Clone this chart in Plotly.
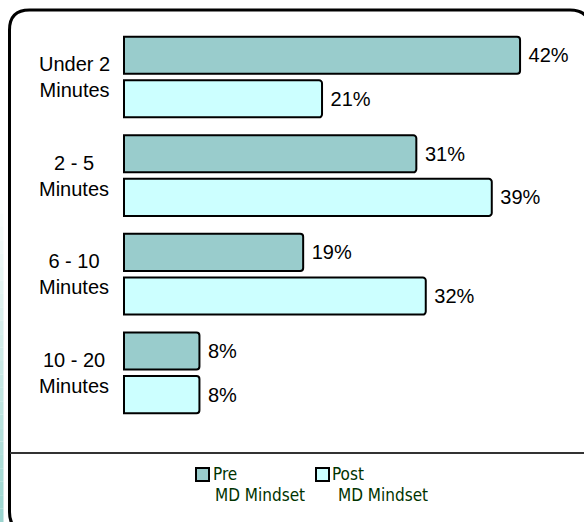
import plotly.graph_objects as go

# ---- data ----
categories = ["Under 2 Minutes", "2 - 5 Minutes", "6 - 10 Minutes", "10 - 20 Minutes"]
category_labels = ["Under 2<br>Minutes", "2 - 5<br>Minutes", "6 - 10<br>Minutes", "10 - 20<br>Minutes"]
pre_values = [42, 31, 19, 8]
post_values = [21, 39, 32, 8]
series_names = ["Pre", "Post"]
legend_second_line = "MD Mindset"

W, H = 584, 522
PRE_COLOR = "#99CCCC"
POST_COLOR = "#CCFFFF"
LABEL_FONT = dict(family="Liberation Sans, Arial, sans-serif", size=20, color="black")
LEGEND_FONT = dict(family="DejaVu Sans Condensed, DejaVu Sans, sans-serif", size=17, color="#003300")


def px(x):
    return x / W


def py(y):
    return 1 - y / H


fig = go.Figure()
for name, vals, color in [(series_names[0], pre_values, PRE_COLOR), (series_names[1], post_values, POST_COLOR)]:
    fig.add_trace(go.Bar(
        y=categories, x=vals, orientation="h", name=name,
        marker=dict(color=color, line=dict(color="black", width=2), cornerradius=3),
        text=vals, texttemplate="&nbsp;%{x}%", textposition="outside",
        textfont=LABEL_FONT, constraintext="none", cliponaxis=False,
        showlegend=False, hoverinfo="skip",
    ))

# category labels (centered, two lines)
for cat, lab in zip(categories, category_labels):
    fig.add_annotation(x=px(74), xref="paper", y=cat, yref="y", text=lab,
                       showarrow=False, align="center", xanchor="center", yanchor="middle",
                       font=LABEL_FONT)

shapes = []
# rounded frame
x0, y0, x1, y1, r = 9.5, 10, 590, 532, 20
path = (f"M {px(x0 + r)},{py(y0)} L {px(x1 - r)},{py(y0)} Q {px(x1)},{py(y0)} {px(x1)},{py(y0 + r)} "
        f"L {px(x1)},{py(y1 - r)} Q {px(x1)},{py(y1)} {px(x1 - r)},{py(y1)} "
        f"L {px(x0 + r)},{py(y1)} Q {px(x0)},{py(y1)} {px(x0)},{py(y1 - r)} "
        f"L {px(x0)},{py(y0 + r)} Q {px(x0)},{py(y0)} {px(x0 + r)},{py(y0)} Z")
shapes.append(dict(type="path", xref="paper", yref="paper", path=path,
                   line=dict(color="black", width=3), fillcolor="rgba(0,0,0,0)", layer="below"))
# divider line
shapes.append(dict(type="line", xref="paper", yref="paper", x0=px(10), x1=px(590), y0=py(453), y1=py(453),
                   line=dict(color="#333333", width=2)))
# left gradient strip (decoration)
n = 24
top, bot = 200, 522
for i in range(n):
    t = (i + 0.5) / n
    rr = int(255 + (153 - 255) * t)
    gg = int(255 + (212 - 255) * t)
    bb = int(255 + (206 - 255) * t)
    ya = top + (bot - top) * i / n
    yb = top + (bot - top) * (i + 1) / n
    shapes.append(dict(type="rect", xref="paper", yref="paper", x0=px(0), x1=px(3.5), y0=py(yb), y1=py(ya),
                       fillcolor=f"rgb({rr},{gg},{bb})", line=dict(width=0), layer="below"))

# custom legend swatches + text
legend_items = [(series_names[0], PRE_COLOR, 196, 211, 213), (series_names[1], POST_COLOR, 316, 330, 336)]
for name, color, sx, tx, tx2 in legend_items:
    shapes.append(dict(type="rect", xref="paper", yref="paper", x0=px(sx), x1=px(sx + 13), y0=py(481), y1=py(468),
                       fillcolor=color, line=dict(color="black", width=2)))
    fig.add_annotation(x=px(tx), xref="paper", y=py(474), yref="paper", text=name, showarrow=False,
                       xanchor="left", yanchor="middle", font=LEGEND_FONT)
    fig.add_annotation(x=px(tx2), xref="paper", y=py(495), yref="paper", text=legend_second_line, showarrow=False,
                       xanchor="left", yanchor="middle", font=LEGEND_FONT)

xl = -124 / 9.43
xr = (W - 124) / 9.43
c0, sp = 77, 98.6
fig.update_layout(
    width=W, height=H, margin=dict(l=0, r=0, t=0, b=0),
    paper_bgcolor="white", plot_bgcolor="white",
    barmode="group", bargap=0.115, bargroupgap=0.15,
    xaxis=dict(range=[xl, xr], visible=False, fixedrange=True),
    yaxis=dict(range=[(H - c0) / sp, -c0 / sp], visible=False, fixedrange=True,
               categoryorder="array", categoryarray=categories),
    shapes=shapes, showlegend=False,
)
fig.write_html("out.html")
